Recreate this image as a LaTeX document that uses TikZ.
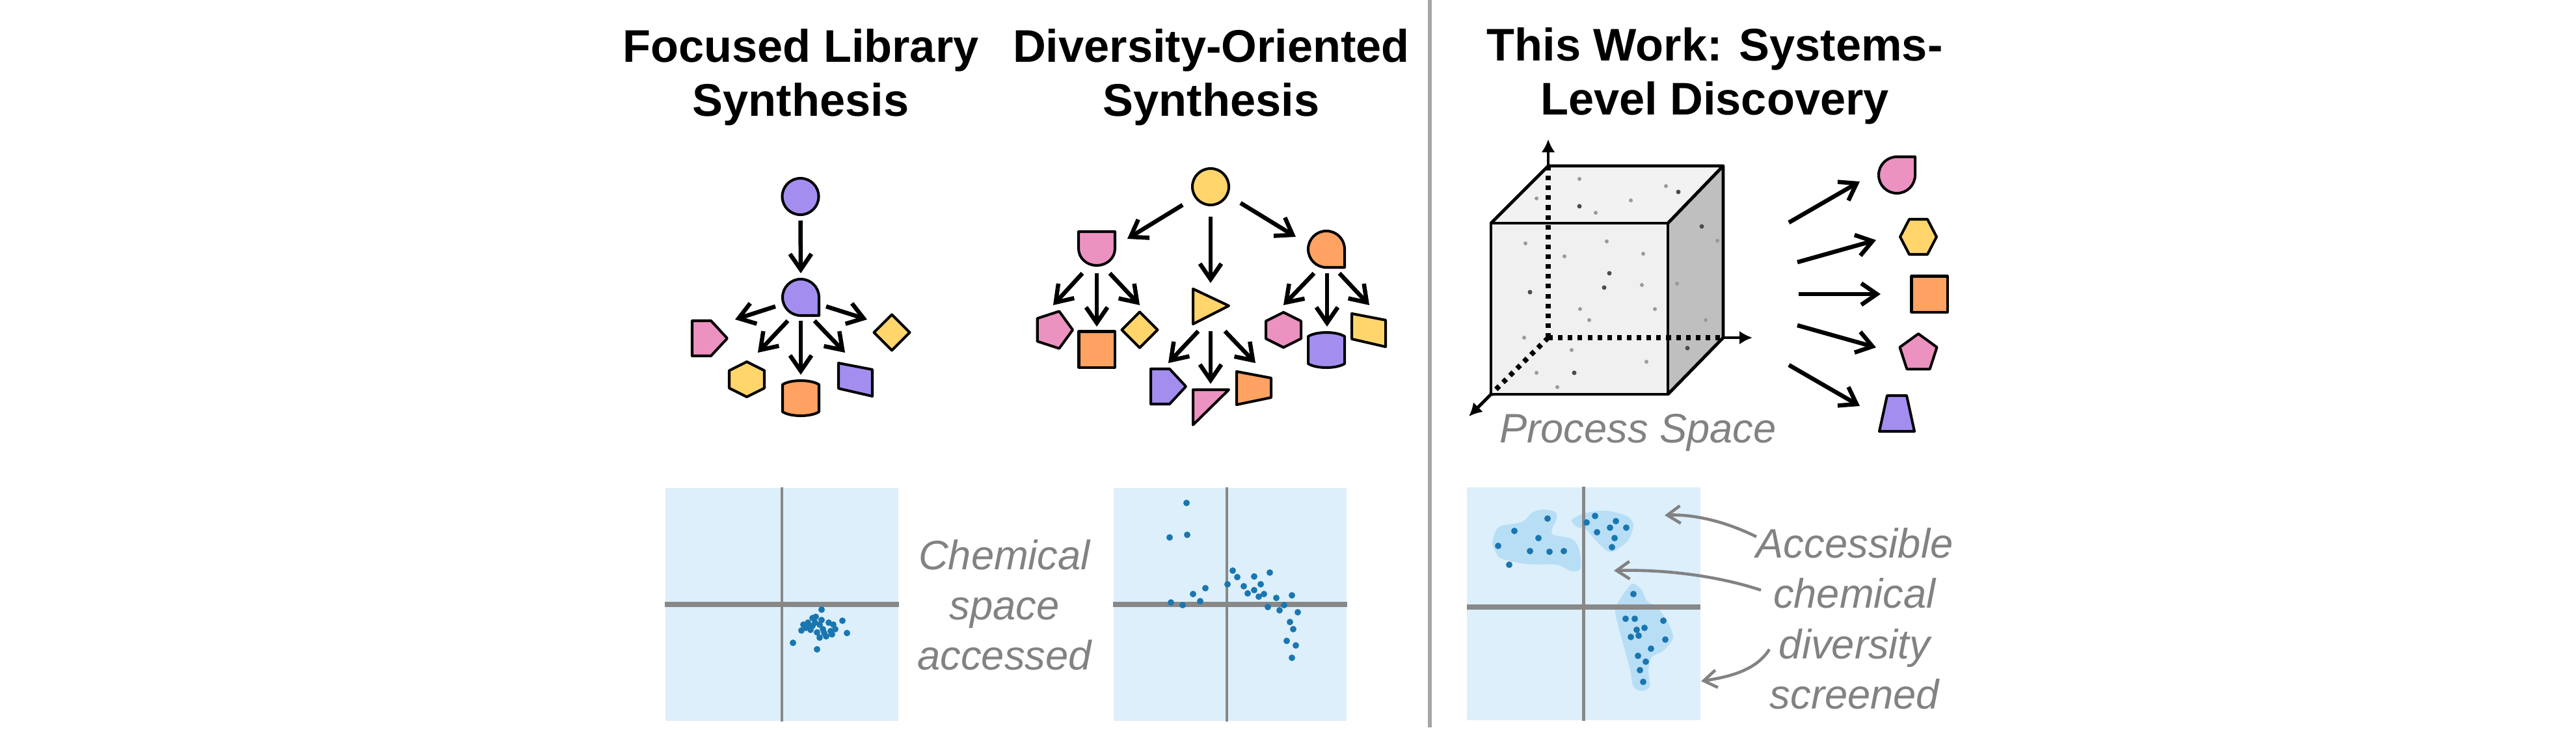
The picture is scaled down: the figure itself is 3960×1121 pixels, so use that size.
\documentclass[tikz,border=0pt]{standalone}
\usepackage{fontspec}
\setmainfont{Liberation Sans}
\usetikzlibrary{arrows.meta,shapes.geometric}
\definecolor{GlyphPurple}{RGB}{163,142,240}
\definecolor{GlyphPink}{RGB}{236,146,192}
\definecolor{GlyphYellow}{RGB}{255,213,108}
\definecolor{GlyphOrange}{RGB}{255,162,98}
\definecolor{PanelBlue}{RGB}{220,239,251}
\definecolor{BlobBlue}{RGB}{184,222,246}
\definecolor{DotBlue}{RGB}{26,118,176}
\definecolor{AxisGray}{RGB}{136,136,136}
\definecolor{NoteGray}{RGB}{130,130,130}

\begin{document}
\begin{tikzpicture}[
    x=0.01cm,
    y=-0.01cm,
    glyphline/.style={draw=black, line width=1.15pt, line join=round},
    glyphbox/.style={rectangle, minimum size=0.56cm, inner sep=0pt},
    glyphnode/.style={glyphline, inner sep=0pt, outer sep=0pt},
    roundglyph/.style={glyphnode, circle, minimum size=0.56cm, fill=#1},
    squareglyph/.style={glyphnode, rectangle, minimum size=0.55cm, fill=#1},
    diamondglyph/.style={glyphnode, diamond, minimum size=0.55cm, fill=#1},
    pentglyph/.style={glyphnode, regular polygon, regular polygon sides=5, minimum size=0.6cm, fill=#1},
    pics/drop/.style={code={
        \draw[glyphline, fill=#1] (28,28) -- (0,28) .. controls (-15.5,28) and (-28,15.5) .. (-28,0)
            .. controls (-28,-15.5) and (-15.5,-28) .. (0,-28) .. controls (15.5,-28) and (28,-15.5) .. (28,0) -- cycle;
    }},
    pics/shield/.style={code={
        \draw[glyphline, fill=#1] (-28,-26) -- (28,-26) -- (28,0) .. controls (28,15) and (15,26) .. (0,26)
            .. controls (-15,26) and (-28,15) .. (-28,0) -- cycle;
    }},
    pics/can/.style={code={
        \draw[glyphline, fill=#1] (-28,-21) .. controls (-15,-29) and (15,-29) .. (28,-21) -- (28,21)
            .. controls (15,29) and (-15,29) .. (-28,21) -- cycle;
    }},
    pics/house/.style={code={
        \draw[glyphline, fill=#1] (-27,-27) -- (2,-27) -- (27,0) -- (2,27) -- (-27,27) -- cycle;
    }},
    pics/hexa/.style={code={
        \draw[glyphline, fill=#1] (0,-27) -- (27,-13.5) -- (27,13.5) -- (0,27) -- (-27,13.5) -- (-27,-13.5) -- cycle;
    }},
    pics/flathex/.style={code={
        \draw[glyphline, fill=#1] (-28,0) -- (-14,-27) -- (14,-27) -- (28,0) -- (14,27) -- (-14,27) -- cycle;
    }},
    pics/slant/.style={code={
        \draw[glyphline, fill=#1] (-26,-25) -- (26,-15) -- (26,26) -- (-26,14) -- cycle;
    }},
    pics/tritip/.style={code={
        \draw[glyphline, fill=#1] (-27,-27) -- (28,-1) -- (-27,27) -- cycle;
    }},
    pics/wedge/.style={code={
        \draw[glyphline, fill=#1] (-27,-27) -- (28,-27) -- (-27,27) -- cycle;
    }},
    pics/sidetrap/.style={code={
        \draw[glyphline, fill=#1] (-26,-25) -- (27,-15) -- (27,15) -- (-26,26) -- cycle;
    }},
    pics/uptrap/.style={code={
        \draw[glyphline, fill=#1] (-15,-28) -- (15,-28) -- (27,27) -- (-27,27) -- cycle;
    }},
    arrow/.style={
        line width=1.85pt,
        draw=black,
        -{Straight Barb[length=0.24cm,width=0.33cm,line width=1.85pt]}
    },
    notearrow/.style={
        line width=1.3pt,
        draw=NoteGray,
        -{Straight Barb[length=0.2cm,width=0.27cm,line width=1.3pt]}
    },
    axisarrow/.style={
        line width=1.4pt,
        -{Latex[length=0.2cm,width=0.21cm]}
    },
    hidden/.style={line width=2.2pt, dash pattern=on 2pt off 2.3pt},
    heading/.style={font=\fontsize{20}{23.6}\selectfont\bfseries, align=center},
    note/.style={font=\fontsize{18}{22}\selectfont\itshape, text=NoteGray, align=center},
    panel/.style={fill=PanelBlue, minimum width=3.58cm, minimum height=3.58cm, inner sep=0pt},
    axisv/.style={draw=AxisGray, line width=1.2pt},
    axish/.style={draw=AxisGray, line width=2.1pt},
    chemdot/.style={fill=DotBlue}
]
\useasboundingbox (0,0) rectangle (3960,1121);

% headings
\node[heading] (headA) at (1231,119) {Focused Library\\Synthesis};
\node[heading] (headB) at (1862,119) {Diversity-Oriented\\Synthesis};
\node[heading] (headC) at (2636,117) {This Work: Systems-\\Level Discovery};

% divider
\coordinate (divTop) at (2197.5,0);
\coordinate (divBot) at (2197.5,1118);
\draw[draw=black!35, line width=1.7pt] (divTop) -- (divBot);

% focused library
\node[roundglyph=GlyphPurple] (rootA) at (1230.5,302) {};
\path (1231,457) pic {drop=GlyphPurple} node[glyphbox] (midA) {};
\path (1091,520) pic {house=GlyphPink} node[glyphbox] (houseA) {};
\path (1148,583) pic {hexa=GlyphYellow} node[glyphbox] (hexA) {};
\path (1231,612) pic {can=GlyphOrange} node[glyphbox] (canA) {};
\path (1315,583) pic {slant=GlyphPurple} node[glyphbox] (slantA) {};
\node[diamondglyph=GlyphYellow] (diamA) at (1371,511) {};

\draw[arrow] ([shift={(0,37)}]rootA.center) -- ([shift={(0,-37)}]midA.center);
\draw[arrow] ([shift={(-39,14)}]midA.center) -- ([shift={(39,-29)}]houseA.center);
\draw[arrow] ([shift={(-20,36)}]midA.center) -- ([shift={(17,-41)}]hexA.center);
\draw[arrow] ([shift={(0,36)}]midA.center) -- ([shift={(0,-36)}]canA.center);
\draw[arrow] ([shift={(21,36)}]midA.center) -- ([shift={(-16,-41)}]slantA.center);
\draw[arrow] ([shift={(39,14)}]midA.center) -- ([shift={(-38,-20)}]diamA.center);

% diversity-oriented
\node[roundglyph=GlyphYellow] (rootB) at (1861,287) {};
\path (1686,382) pic {shield=GlyphPink} node[glyphbox] (shieldB) {};
\path (1861,471) pic {tritip=GlyphYellow} node[glyphbox] (triB) {};
\path (2039,383) pic {drop=GlyphOrange} node[glyphbox] (dropB) {};
\node[pentglyph=GlyphPink, shape border rotate=-90] (pentB) at (1619,507) {};
\node[squareglyph=GlyphOrange] (squareB) at (1686,537) {};
\node[diamondglyph=GlyphYellow] (diamB) at (1752,507) {};
\path (1796,594) pic {house=GlyphPurple} node[glyphbox] (houseB) {};
\path (1861,626) pic {wedge=GlyphPink} node[glyphbox] (wedgeB) {};
\path (1927,596) pic {sidetrap=GlyphOrange} node[glyphbox] (trapB) {};
\path (1973,507) pic {hexa=GlyphPink} node[glyphbox] (hexB) {};
\path (2039,538) pic {can=GlyphPurple} node[glyphbox] (canB) {};
\path (2104,507) pic {slant=GlyphYellow} node[glyphbox] (slantB) {};

\draw[arrow] ([shift={(-43,28)}]rootB.center) -- ([shift={(47,-15)}]shieldB.center);
\draw[arrow] ([shift={(0,46)}]rootB.center) -- ([shift={(0,-36)}]triB.center);
\draw[arrow] ([shift={(46,25)}]rootB.center) -- ([shift={(-47,-19)}]dropB.center);
\draw[arrow] ([shift={(-22,38)}]shieldB.center) -- ([shift={(0,-38)}]pentB.center);
\draw[arrow] ([shift={(0,38)}]shieldB.center) -- ([shift={(0,-35)}]squareB.center);
\draw[arrow] ([shift={(20,38)}]shieldB.center) -- ([shift={(0,-38)}]diamB.center);
\draw[arrow] ([shift={(-19,38)}]triB.center) -- ([shift={(0,-36)}]houseB.center);
\draw[arrow] ([shift={(0,38)}]triB.center) -- ([shift={(0,-36)}]wedgeB.center);
\draw[arrow] ([shift={(22,38)}]triB.center) -- ([shift={(3,-38)}]trapB.center);
\draw[arrow] ([shift={(-19,37)}]dropB.center) -- ([shift={(0,-38)}]hexB.center);
\draw[arrow] ([shift={(1,37)}]dropB.center) -- ([shift={(1,-36)}]canB.center);
\draw[arrow] ([shift={(20,37)}]dropB.center) -- ([shift={(1,-38)}]slantB.center);

% process space cube
\coordinate (frontTL) at (2292,343);
\coordinate (frontTR) at (2564,343);
\coordinate (frontBR) at (2564,606);
\coordinate (frontBL) at (2292,606);
\coordinate (backTL) at (2380,255);
\coordinate (backTR) at (2649,255);
\coordinate (backBR) at (2649,519);
\coordinate (backBL) at (2380,519);
\coordinate (axisUp) at (2380,214);
\coordinate (axisRight) at (2694,519);
\coordinate (axisDown) at (2258,640);

\fill[black!5] (frontTL) -- (backTL) -- (backTR) -- (frontTR) -- cycle;
\fill[black!6] (frontTL) -- (frontTR) -- (frontBR) -- (frontBL) -- cycle;
\fill[black!25] (frontTR) -- (backTR) -- (backBR) -- (frontBR) -- cycle;

\draw[hidden] (backTL) -- (backBL);
\draw[hidden] (backBL) -- (backBR);
\draw[hidden] (backBL) -- (frontBL);

\foreach \x/\y in {2345/374,2470/371,2405/394,2526/390,2524/438,2429/475,2544/475,2443/492,2343/519,2416/538,2531/556,2362/573,2394/595,2428/275,2561/286,2362/305,2507/308,2453/327,2640/370,2578/436,2622/492}
    \fill[black!40] (\x,\y) circle [radius=0.03cm];
\foreach \x/\y in {2474/420,2466/442,2352/449,2420/573,2580/295,2428/317,2616/348,2594/535}
    \fill[black!70] (\x,\y) circle [radius=0.035cm];

\draw[line width=1.4pt, line join=round] (frontTL) -- (frontTR) -- (frontBR) -- (frontBL) -- cycle;
\draw[line width=1.4pt, line join=round] (frontTL) -- (backTL) -- (backTR) -- (frontTR);
\draw[line width=1.4pt, line join=round] (backTR) -- (backBR) -- (frontBR);

\draw[axisarrow] (backTL) -- (axisUp);
\draw[axisarrow] (backBR) -- (axisRight);
\draw[axisarrow] (frontBL) -- (axisDown);

\node[note] (procLabel) at (2518,665) {Process Space};

% products
\coordinate (cubeEast) at (2650,452);
\path (2916,269) pic[yscale=-1] {drop=GlyphPink} node[glyphbox] (dropC) {};
\path (2949,364) pic {flathex=GlyphYellow} node[glyphbox] (hexC) {};
\node[squareglyph=GlyphOrange] (squareC) at (2966,452) {};
\node[pentglyph=GlyphPink] (pentC) at (2949,543) {};
\path (2916,636) pic {uptrap=GlyphPurple} node[glyphbox] (trapC) {};

\draw[arrow] ([shift={(100,-110)}]cubeEast) -- ([shift={(-57,10)}]dropC.center);
\draw[arrow] ([shift={(113,-49)}]cubeEast) -- ([shift={(-65,5)}]hexC.center);
\draw[arrow] ([shift={(115,0)}]cubeEast) -- ([shift={(-75,0)}]squareC.center);
\draw[arrow] ([shift={(113,48)}]cubeEast) -- ([shift={(-65,-9)}]pentC.center);
\draw[arrow] ([shift={(100,109)}]cubeEast) -- ([shift={(-57,-12)}]trapC.center);

% chemical space panels
\node[panel] (panelA) at (1202,929) {};
\node[panel] (panelB) at (1891,929) {};
\node[panel] (panelC) at (2434.5,928) {};

\fill[BlobBlue] plot[smooth cycle] coordinates {(2373,783) (2391,787) (2393,797) (2386,813) (2388,822) (2416,828) (2427,843) (2430,873) (2416,878) (2393,868) (2348,867) (2307,858) (2297,843) (2294,833) (2304,810) (2340,802) (2355,788)};
\fill[BlobBlue] plot[smooth cycle] coordinates {(2416,800) (2427,792) (2444,787) (2470,785) (2501,793) (2511,807) (2503,830) (2485,845) (2473,848) (2455,833) (2437,813) (2424,810)};
\fill[BlobBlue] plot[smooth cycle] coordinates {(2511,897) (2524,907) (2531,923) (2547,933) (2562,953) (2572,980) (2557,1000) (2539,1010) (2534,1030) (2536,1055) (2524,1062) (2511,1055) (2506,1030) (2496,993) (2488,963) (2483,937) (2493,917) (2503,903)};

\draw[axisv] (panelA.north) -- (panelA.south);
\draw[axish] (panelA.west) -- (panelA.east);
\draw[axisv] ([xshift=-0.05cm]panelB.north) -- ([xshift=-0.05cm]panelB.south);
\draw[axish] (panelB.west) -- (panelB.east);
\draw[axisv] (panelC.north) -- (panelC.south);
\draw[axish] ([yshift=-0.05cm]panelC.west) -- ([yshift=-0.05cm]panelC.east);

\foreach \x/\y in {1263/937,1295/954,1302/973,1219/988,1256/998,1249/950,1254/948,1235/960,1232/969,1242/957,1246/963,1253/957,1260/960,1265/967,1274/957,1281/960,1284/967,1277/970,1267/973,1260/980,1270/978,1256/972,1246/968,1239/965,1263/953,1249/962,1279/975}
    \fill[chemdot] (\x,\y) circle [radius=0.05cm];
\foreach \x/\y in {1824/773,1825/822,1798/826,1895/877,1902/887,1928/886,1952/880,1887/898,1938/898,1912/901,1853/904,1928/907,1834/913,1918/912,1943/913,1935/917,1962/919,1986/915,1845/924,1800/926,1818/930,1974/930,1949/933,1967/938,1995/941,1983/956,1988/967,1978/985,1992/992,1986/1011}
    \fill[chemdot] (\x,\y) circle [radius=0.05cm];
\foreach \x/\y in {2379/797,2328/816,2365/827,2303/839,2352/847,2382/848,2404/847,2320/868,2452/793,2439/803,2484/801,2475/811,2500/811,2455/818,2482/827,2478/841,2511/913,2499/951,2513/951,2557/954,2528/965,2516/968,2519/977,2507/979,2560/983,2538/997,2518/1008,2530/1017,2521/1030,2526/1048}
    \fill[chemdot] (\x,\y) circle [radius=0.05cm];

% labels
\node[note] (accessLabel) at (1544,930) {Chemical\\space\\accessed};
\node[note] (diverseLabel) at (2851,951) {Accessible\\chemical\\diversity\\screened};

\coordinate (tipTop) at (2559,792);
\coordinate (tipMid) at (2481,877);
\coordinate (tipLow) at (2615,1047);

\draw[notearrow] ([shift={(-151,-126)}]diverseLabel.center) .. controls (2650,800) and (2600,790) .. (tipTop);
\draw[notearrow] ([shift={(-144,-44)}]diverseLabel.center) .. controls (2640,885) and (2560,875) .. (tipMid);
\draw[notearrow] ([shift={(-131,47)}]diverseLabel.center) .. controls (2700,1030) and (2660,1040) .. (tipLow);

\end{tikzpicture}
\end{document}
